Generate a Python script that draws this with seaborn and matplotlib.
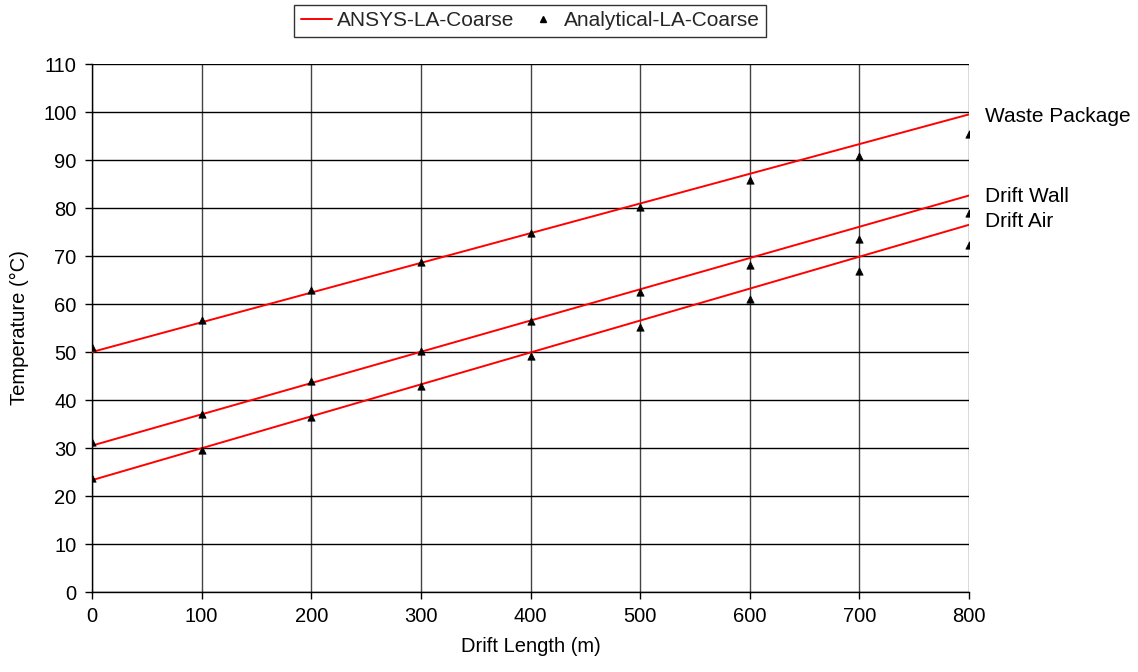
import matplotlib
matplotlib.use("Agg")
import matplotlib.pyplot as plt
import seaborn as sns
import pandas as pd
from matplotlib.lines import Line2D

# Data
x_line = [0, 800]
ansys_wp = [50.0, 99.5]
ansys_dw = [30.5, 82.6]
ansys_da = [23.3, 76.5]

x_pts = [0, 100, 200, 300, 400, 500, 600, 700, 800]
anal_wp = [51.1, 56.7, 62.9, 68.8, 74.7, 80.3, 85.8, 90.8, 95.5]
anal_dw = [31.2, 37.1, 43.9, 50.2, 56.4, 62.4, 68.2, 73.6, 79.0]
anal_da = [23.7, 29.6, 36.5, 42.9, 49.1, 55.2, 61.1, 66.8, 72.3]

curve_labels = ["Waste Package", "Drift Wall", "Drift Air"]
label_y = [99.0, 82.3, 77.1]
x_ticks = [0, 100, 200, 300, 400, 500, 600, 700, 800]
y_ticks = list(range(0, 111, 10))

sns.set_theme(style="white")
plt.rcParams['font.family'] = ['Liberation Sans', 'DejaVu Sans']

lines_df = pd.concat([
    pd.DataFrame({"x": x_line, "y": ys, "curve": lab})
    for ys, lab in zip([ansys_wp, ansys_dw, ansys_da], curve_labels)
])
pts_df = pd.concat([
    pd.DataFrame({"x": x_pts, "y": ys, "curve": lab})
    for ys, lab in zip([anal_wp, anal_dw, anal_da], curve_labels)
])

fig = plt.figure(figsize=(11.38, 6.72), dpi=100)
ax = fig.add_axes([92/1138, 80/672, (969-92)/1138, (592-64)/672])

sns.lineplot(data=lines_df, x="x", y="y", units="curve", estimator=None,
             color="#ff0000", linewidth=1.4, ax=ax, legend=False, zorder=3)
sns.scatterplot(data=pts_df, x="x", y="y", marker="^", color="black",
                s=28, edgecolor="black", linewidth=0.5, ax=ax, legend=False, zorder=4)

ax.set_xlim(0, 800)
ax.set_ylim(0, 110)
ax.set_xticks(x_ticks)
ax.set_yticks(y_ticks)
ax.tick_params(axis="both", which="both", length=5, width=1, direction="out",
               labelsize=14.5, color="black", labelcolor="black", pad=6,
               bottom=True, left=True)
ax.grid(True, axis="y", color="black", linewidth=1)
ax.grid(True, axis="x", color="#444444", linewidth=1)
ax.set_axisbelow(True)
for s in ["top", "right"]:
    ax.spines[s].set_visible(False)
for s in ["left", "bottom"]:
    ax.spines[s].set_color("black")
    ax.spines[s].set_linewidth(1)

ax.set_xlabel("Drift Length (m)", fontsize=14.5, color="black", labelpad=8)
ax.set_ylabel("Temperature (°C)", fontsize=14.5, color="black", labelpad=10)

# curve labels at right
for lab, yv in zip(curve_labels, label_y):
    ax.text(1.018, yv, lab, transform=ax.get_yaxis_transform(),
            fontsize=15, color="black", va="center", ha="left", clip_on=False)

handles = [Line2D([0], [0], color="#ff0000", linewidth=1.4),
           Line2D([0], [0], marker="^", color="black", linestyle="none", markersize=5)]
leg = fig.legend(handles, ["ANSYS-LA-Coarse", "Analytical-LA-Coarse"],
                 loc="upper center", bbox_to_anchor=(530/1138, 1 - 5/672), ncol=2,
                 fontsize=15, frameon=True, fancybox=False, edgecolor="black",
                 borderpad=0.3, borderaxespad=0.0,
                 handlelength=1.5, columnspacing=0.6, handletextpad=0.25)
leg.get_frame().set_linewidth(1)

fig.savefig("out.png", dpi=100)
